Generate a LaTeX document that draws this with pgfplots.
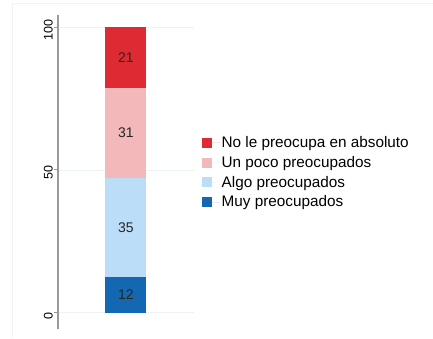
\documentclass[border=0pt]{standalone}
\usepackage{pgfplots}
\pgfplotsset{compat=1.18}
\usepackage{fontspec}
\setmainfont{Liberation Sans}
\definecolor{cA}{HTML}{1467B1}
\definecolor{cB}{HTML}{BBDDF7}
\definecolor{cC}{HTML}{F2B8BA}
\definecolor{cD}{HTML}{DE2B33}
\definecolor{gridc}{HTML}{EDF2F2}
\definecolor{axc}{HTML}{9A9A9A}
\begin{document}
\begin{tikzpicture}[x=1pt,y=1pt]
\path (0,0) rectangle (433,339);
\draw[black!5, line width=0.6pt] (12,1) -- (12,336) -- (433,336);
\begin{axis}[
  at={(58pt,10pt)}, anchor=south west,
  scale only axis, width=136pt, height=314pt,
  xmin=0, xmax=1, ymin=-5.6, ymax=104.2,
  axis x line=none, axis y line*=left,
  y axis line style={axc, line width=1.5pt},
  ybar stacked, bar width=41pt,
  ytick={0,50,100},
  ymajorgrids, grid style={gridc, line width=0.6pt},
  tick align=outside, major tick length=4pt,
  ytick style={axc, line width=0.8pt},
  yticklabel style={rotate=90, anchor=south, font=\fontsize{12.5}{14}\selectfont, inner sep=1pt, xshift=-3pt},
  /pgf/number format/assume math mode=true,
  legend style={draw=none, fill=none, at={(1.06,0.498)}, anchor=west,
    font=\fontsize{15.3}{18}\selectfont, row sep=4.2pt, inner sep=0pt,
    nodes={inner sep=1.5pt}},
  legend cell align=left,
  reverse legend,
  legend image code/.code={\fill[#1] (0pt,-5pt) rectangle (10pt,5pt); \path (0pt,0pt) -- (18pt,0pt);},
]
\addplot[fill=cA, draw=none] coordinates {(0.5,12.4)};
\addplot[fill=cB, draw=none] coordinates {(0.5,34.9)};
\addplot[fill=cC, draw=none] coordinates {(0.5,31.4)};
\addplot[fill=cD, draw=none] coordinates {(0.5,21.3)};
\legend{Muy preocupados, Algo preocupados, Un poco preocupados, No le preocupa en absoluto}
\end{axis}
\begin{axis}[
  at={(58pt,10pt)}, anchor=south west,
  scale only axis, width=136pt, height=314pt,
  xmin=0, xmax=1, ymin=-5.6, ymax=104.2,
  hide axis,
]
\addplot[only marks, mark=none, nodes near coords, point meta=explicit symbolic,
  every node near coord/.style={anchor=center, font=\fontsize{14}{16}\selectfont, text=black!85}]
  coordinates {(0.5,6.2)[12] (0.5,29.85)[35] (0.5,63.0)[31] (0.5,89.35)[21]};
\end{axis}
\end{tikzpicture}
\end{document}
